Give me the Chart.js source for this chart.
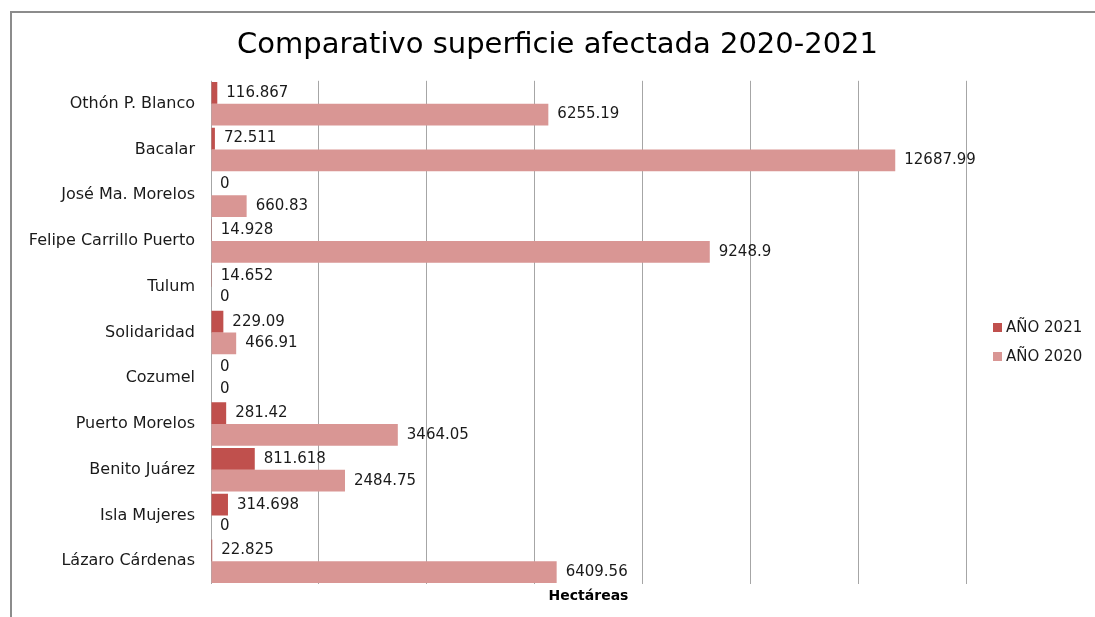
<!DOCTYPE html>
<html>
<head>
<meta charset="utf-8">
<script src="https://cdn.jsdelivr.net/npm/chart.js@4"></script>
<style>
  body { margin: 0; background: #fff; }
  #wrap { position: relative; width: 1095px; height: 617px; }
  #frame { position: absolute; left: 10px; top: 11px; right: 0; bottom: 0;
           border-top: 2px solid #8c8c8c; border-left: 2px solid #8c8c8c; }
  canvas { position: absolute; left: 0; top: 0; }
</style>
</head>
<body>
<div id="wrap">
  <div id="frame"></div>
  <canvas id="chart" width="1095" height="617"></canvas>
</div>
<script>
const municipios = ['Othón P. Blanco', 'Bacalar', 'José Ma. Morelos', 'Felipe Carrillo Puerto', 'Tulum',
    'Solidaridad', 'Cozumel', 'Puerto Morelos', 'Benito Juárez', 'Isla Mujeres', 'Lázaro Cárdenas'];
const anio2021 = [116.867, 72.511, 0, 14.928, 14.652, 229.09, 0, 281.42, 811.618, 314.698, 22.825];
const anio2020 = [6255.19, 12687.99, 660.83, 9248.9, 0, 466.91, 0, 3464.05, 2484.75, 0, 6409.56];

const FONT = "'DejaVu Sans', sans-serif";

// value labels next to each bar end
const barLabels = {
    id: 'barLabels',
    afterDatasetsDraw(chart) {
        const c = chart.ctx;
        c.save();
        c.font = '15px ' + FONT;
        c.fillStyle = '#1a1a1a';
        c.textBaseline = 'middle';
        c.textAlign = 'left';
        chart.data.datasets.forEach((ds, i) => {
            chart.getDatasetMeta(i).data.forEach((bar, j) => {
                c.fillText(String(ds.data[j]), bar.x + 9, bar.y);
            });
        });
        c.restore();
    }
};

// legend in the space kept free on the right, drawn from the datasets
const sideLegend = {
    id: 'sideLegend',
    afterDraw(chart) {
        const c = chart.ctx;
        const x0 = chart.chartArea.right + 27;
        c.save();
        c.font = '15px ' + FONT;
        c.textBaseline = 'middle';
        chart.data.datasets.forEach((ds, i) => {
            const y = 328 + i * 29;
            c.fillStyle = ds.backgroundColor;
            c.fillRect(x0, y - 5, 9, 9);
            c.fillStyle = '#1a1a1a';
            c.fillText(ds.label, x0 + 13, y);
        });
        c.restore();
    }
};

new Chart(document.getElementById('chart'), {
    type: 'bar',
    data: {
        labels: municipios,
        datasets: [{
            label: 'AÑO 2021',
            data: anio2021,
            backgroundColor: '#c0504d',
            barPercentage: 1,
            categoryPercentage: 0.95
        }, {
            label: 'AÑO 2020',
            data: anio2020,
            backgroundColor: '#d99694',
            barPercentage: 1,
            categoryPercentage: 0.95
        }]
    },
    options: {
        indexAxis: 'y',
        responsive: false,
        animation: false,
        layout: { padding: { top: 8, right: 0, bottom: 12, left: 20 } },
        plugins: {
            legend: { display: false },
            tooltip: { enabled: false },
            title: {
                display: true,
                text: 'Comparativo superficie afectada 2020-2021',
                color: '#000',
                font: { family: FONT, size: 29, weight: 'normal' },
                padding: { top: 20, bottom: 18 }
            }
        },
        scales: {
            x: {
                min: 0,
                max: 14000,
                ticks: { display: false, stepSize: 2000 },
                grid: { color: '#a6a6a6', lineWidth: 1, drawTicks: false },
                border: { display: false },
                title: {
                    display: true,
                    text: 'Hectáreas',
                    color: '#000',
                    font: { family: FONT, size: 14, weight: 'bold' },
                    padding: { top: 4, bottom: 0 }
                }
            },
            y: {
                grid: { display: false },
                border: { display: false },
                ticks: { color: '#1a1a1a', font: { family: FONT, size: 16 }, padding: 8 },
                afterFit(scale) { scale.width = 191; }
            },
            // empty axis on the right that only reserves room for the legend
            yLegend: {
                type: 'category',
                position: 'right',
                grid: { display: false },
                border: { display: false },
                ticks: { display: false },
                afterFit(scale) { scale.width = 129; }
            }
        }
    },
    plugins: [barLabels, sideLegend]
});
</script>
</body>
</html>
